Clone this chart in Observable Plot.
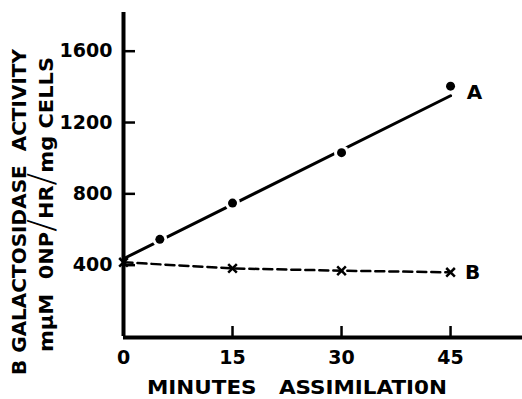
<!DOCTYPE html>
<html><head><meta charset="utf-8">
<script src="https://cdn.jsdelivr.net/npm/d3@7"></script>
<script src="https://cdn.jsdelivr.net/npm/@observablehq/plot@0.6"></script>
<style>body{margin:0;background:#fff} svg{display:block}</style>
</head><body><div id="chart"></div>
<script>
// ---- data ----
const xTicks = [0, 15, 30, 45];
const yTicks = [400, 800, 1200, 1600];
const aMinutes = [5, 15, 30, 45];
const aActivity = [545, 748, 1031, 1404];
const aFitMinutes = [0, 45];
const aFitActivity = [436, 1350];
const bMinutes = [0, 15, 30, 45];
const bActivity = [416, 382, 369, 360];
const seriesLabels = ["A", "B"];
const xTitle = "MINUTES   ASSIMILATI0N";
const yTitle1 = "B GALACTOSIDASE  ACTIVITY";
const yTitle2Parts = ["mμM  0NP", "/", "HR", "/", "mg CELLS"];

const A = aMinutes.map((m, i) => ({m, v: aActivity[i]}));
const AFit = aFitMinutes.map((m, i) => ({m, v: aFitActivity[i]}));
const B = bMinutes.map((m, i) => ({m, v: bActivity[i]}));
const labelA = [{m: aMinutes.at(-1), v: aActivity.at(-1), t: seriesLabels[0]}];
const labelB = [{m: bMinutes.at(-1), v: bActivity.at(-1), t: seriesLabels[1]}];

const font = "'DejaVu Sans', sans-serif";

const svg = Plot.plot({
  width: 522, height: 399,
  marginLeft: 123, marginRight: 0, marginTop: 12, marginBottom: 63,
  x: {domain: [0, 54.9]},
  y: {domain: [0, 1817]},
  style: {fontFamily: font, background: "white", color: "black"},
  marks: [
    Plot.line(AFit, {x: "m", y: "v", stroke: "black", strokeWidth: 3}),
    Plot.line(B, {x: "m", y: "v", stroke: "black", strokeWidth: 2.5, strokeDasharray: "9,5"}),
    Plot.dot(A, {x: "m", y: "v", r: 7.5, fill: "white"}),
    Plot.dot(A, {x: "m", y: "v", r: 4.5, fill: "black"}),
    Plot.dot(B, {x: "m", y: "v", r: 4, symbol: "times", stroke: "black", strokeWidth: 2.5}),
    Plot.text(labelA, {x: "m", y: "v", text: "t", dx: 24, dy: 6, fontSize: 20, fontWeight: "bold", fill: "black"}),
    Plot.text(labelB, {x: "m", y: "v", text: "t", dx: 22, dy: 0, fontSize: 20, fontWeight: "bold", fill: "black"}),
    Plot.axisX(xTicks, {tickSize: -10, tickPadding: 24, strokeWidth: 2.5, fontSize: 19, fontWeight: "bold", label: null, tickFormat: d3.format("d")}),
    Plot.axisY(yTicks, {tickSize: -12, tickPadding: 23, strokeWidth: 2.5, fontSize: 19, fontWeight: "bold", label: null, tickFormat: d3.format("d")}),
    Plot.ruleX([0], {strokeWidth: 4}),
    Plot.ruleY([0], {strokeWidth: 4, dy: 1})
  ]
});

const s = d3.select(svg);
s.append("text")
  .attr("x", 297).attr("y", 394)
  .attr("text-anchor", "middle")
  .attr("font-family", font).attr("font-weight", "bold").attr("font-size", 19)
  .attr("textLength", 300).attr("lengthAdjust", "spacingAndGlyphs")
  .style("white-space", "pre")
  .text(xTitle);

s.append("text")
  .attr("transform", "translate(25.5,212) rotate(-90)")
  .attr("text-anchor", "middle")
  .attr("font-family", font).attr("font-weight", "bold").attr("font-size", 20)
  .attr("textLength", 326).attr("lengthAdjust", "spacingAndGlyphs")
  .style("white-space", "pre")
  .text(yTitle1);

const t2 = s.append("text")
  .attr("transform", "translate(53,204.5) rotate(-90)")
  .attr("text-anchor", "middle")
  .attr("font-family", font).attr("font-weight", "bold").attr("font-size", 20)
  .attr("textLength", 295).attr("lengthAdjust", "spacingAndGlyphs")
  .style("white-space", "pre");
yTitle2Parts.forEach(p => {
  const ts = t2.append("tspan").text(p);
  if (p === "/") ts.attr("font-size", 36).attr("font-weight", 200);
});

document.getElementById("chart").appendChild(svg);
</script>
</body></html>
